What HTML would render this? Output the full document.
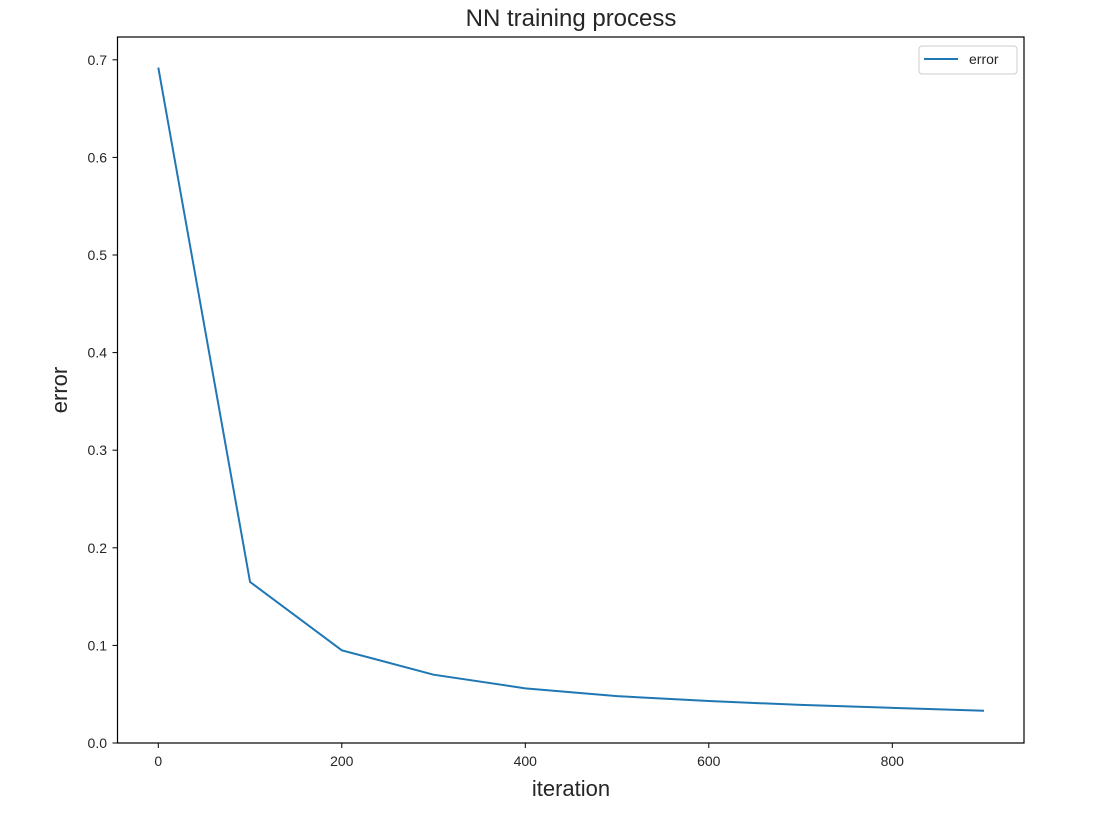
<!DOCTYPE html>
<html><head><meta charset="utf-8"><style>body{margin:0;background:#fff}text{font-family:"Liberation Sans","DejaVu Sans",sans-serif;fill:#262626}</style></head>
<body>
<svg id="chart" width="1115" height="814" xmlns="http://www.w3.org/2000/svg">
<text x="571" y="26" font-size="24" text-anchor="middle">NN training process</text>
<text x="571" y="796" font-size="22" text-anchor="middle">iteration</text>
<text transform="translate(67,390) rotate(-90)" font-size="22" text-anchor="middle">error</text>
<g id="xt"></g>
<g id="yt"></g>
<path id="line" fill="none" stroke="#1f77b4" stroke-width="2"/>
<rect x="117.5" y="37" width="906.5" height="706" fill="none" stroke="#000" stroke-width="1.2"/>
<g>
<rect x="919" y="46" width="98" height="28" rx="3" fill="#fff" stroke="#ccc"/>
<line x1="924" y1="59" x2="958" y2="59" stroke="#1f77b4" stroke-width="2"/>
<text x="969" y="64" font-size="14">error</text>
</g>
</svg>
<script>
const iterations=[0,100,200,300,400,500,600,700,800,900];
const errors=[0.692,0.165,0.095,0.07,0.056,0.048,0.043,0.039,0.036,0.033];
const xTicks=[0,200,400,600,800];
const yTicks=[0.0,0.1,0.2,0.3,0.4,0.5,0.6,0.7];
const X=v=>158.3+v*0.9175;
const Y=v=>743-v*976;
const ns="http://www.w3.org/2000/svg";
function mk(t,a,p){const e=document.createElementNS(ns,t);for(const k in a)e.setAttribute(k,a[k]);p.appendChild(e);return e;}
const xt=document.getElementById('xt'),yt=document.getElementById('yt');
xTicks.forEach(v=>{
 const l=mk('line',{x1:X(v),x2:X(v),y1:743,y2:748,stroke:'#000'},xt);
 
 
 const t=mk('text',{x:X(v),y:766,'font-size':14,'text-anchor':'middle'},xt);t.textContent=v;
 
 
});
yTicks.forEach(v=>{
 const l=mk('line',{x1:112.5,x2:117.5,y1:Y(v),y2:Y(v),stroke:'#000'},yt);
 
 
 const t=mk('text',{x:107,y:Y(v)+5,'font-size':14,'text-anchor':'end'},yt);t.textContent=v.toFixed(1);
 
 
});
document.getElementById('line').setAttribute('d',iterations.map((v,i)=>(i?'L':'M')+X(v)+','+Y(errors[i])).join(' '));
</script>
</body></html>
